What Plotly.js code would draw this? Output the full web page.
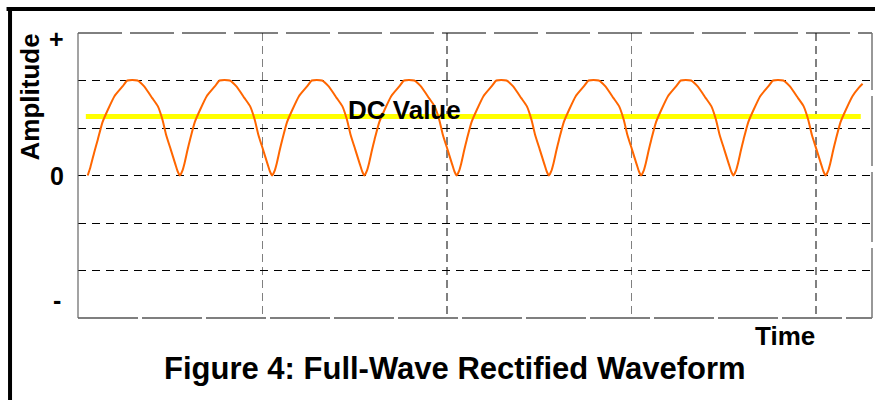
<!DOCTYPE html>
<html>
<head>
<meta charset="utf-8">
<script src="https://cdn.plot.ly/plotly-3.0.1.min.js"></script>
<style>
  html, body { margin: 0; padding: 0; background: #ffffff; }
  #chart { width: 875px; height: 400px; }
</style>
</head>
<body>
<div id="chart"></div>
<script>
// Time (arbitrary units; one rectified half-cycle = 10 units)
const timeX = [
  0, 0.3, 0.7, 1.1, 1.6, 2.2, 2.9, 3.8, 4.3, 5.4, 6.1, 7.0, 7.6, 8.1, 8.5, 9.0, 9.5, 9.75,
  10, 10.25, 10.5, 10.8, 11.1, 11.6, 12.2, 12.9, 13.8, 14.3, 15.4, 16.1, 17.0, 17.6, 18.1, 18.5, 19.0, 19.5, 19.75,
  20, 20.25, 20.5, 20.8, 21.1, 21.6, 22.2, 22.9, 23.8, 24.3, 25.4, 26.1, 27.0, 27.6, 28.1, 28.5, 29.0, 29.5, 29.75,
  30, 30.25, 30.5, 30.8, 31.1, 31.6, 32.2, 32.9, 33.8, 34.3, 35.4, 36.1, 37.0, 37.6, 38.1, 38.5, 39.0, 39.5, 39.75,
  40, 40.25, 40.5, 40.8, 41.1, 41.6, 42.2, 42.9, 43.8, 44.3, 45.4, 46.1, 47.0, 47.6, 48.1, 48.5, 49.0, 49.5, 49.75,
  50, 50.25, 50.5, 50.8, 51.1, 51.6, 52.2, 52.9, 53.8, 54.3, 55.4, 56.1, 57.0, 57.6, 58.1, 58.5, 59.0, 59.5, 59.75,
  60, 60.25, 60.5, 60.8, 61.1, 61.6, 62.2, 62.9, 63.8, 64.3, 65.4, 66.1, 67.0, 67.6, 68.1, 68.5, 69.0, 69.5, 69.75,
  70, 70.25, 70.5, 70.8, 71.1, 71.6, 72.2, 72.9, 73.8, 74.3, 75.4, 76.1, 77.0, 77.6, 78.1, 78.5, 79.0, 79.5, 79.75,
  80, 80.25, 80.5, 80.8, 81.1, 81.6, 82.2, 82.9, 83.6, 84.0
];
// Rectified amplitude
const amplitude = [
  0, 0.18, 0.48, 0.76, 1.12, 1.39, 1.67, 1.88, 2.0, 2.0, 1.88, 1.63, 1.46, 1.18, 0.86, 0.55, 0.24, 0.09,
  0, 0.09, 0.26, 0.52, 0.76, 1.12, 1.39, 1.67, 1.88, 2.0, 2.0, 1.88, 1.63, 1.46, 1.18, 0.86, 0.55, 0.24, 0.09,
  0, 0.09, 0.26, 0.52, 0.76, 1.12, 1.39, 1.67, 1.88, 2.0, 2.0, 1.88, 1.63, 1.46, 1.18, 0.86, 0.55, 0.24, 0.09,
  0, 0.09, 0.26, 0.52, 0.76, 1.12, 1.39, 1.67, 1.88, 2.0, 2.0, 1.88, 1.63, 1.46, 1.18, 0.86, 0.55, 0.24, 0.09,
  0, 0.09, 0.26, 0.52, 0.76, 1.12, 1.39, 1.67, 1.88, 2.0, 2.0, 1.88, 1.63, 1.46, 1.18, 0.86, 0.55, 0.24, 0.09,
  0, 0.09, 0.26, 0.52, 0.76, 1.12, 1.39, 1.67, 1.88, 2.0, 2.0, 1.88, 1.63, 1.46, 1.18, 0.86, 0.55, 0.24, 0.09,
  0, 0.09, 0.26, 0.52, 0.76, 1.12, 1.39, 1.67, 1.88, 2.0, 2.0, 1.88, 1.63, 1.46, 1.18, 0.86, 0.55, 0.24, 0.09,
  0, 0.09, 0.26, 0.52, 0.76, 1.12, 1.39, 1.67, 1.88, 2.0, 2.0, 1.88, 1.63, 1.46, 1.18, 0.86, 0.55, 0.24, 0.09,
  0, 0.09, 0.26, 0.52, 0.76, 1.12, 1.39, 1.67, 1.85, 1.93
];
// DC value line
const dcX = [-0.2, 83.8];
const dcY = [1.24, 1.24];
// Axis label texts
const yTickTexts = ['+', '0', '-'];
const yTickValues = [2.88, 0, -2.62];
const titleText = 'Figure 4: Full-Wave Rectified Waveform';
const dcLabel = 'DC Value';
const xLabel = 'Time';
const yLabel = 'Amplitude';

const FONT = 'Liberation Sans, Arial, Helvetica, sans-serif';
const boldFont = (size) => ({ family: FONT, size: size, color: '#000000', weight: 'bold' });

const traces = [
  {
    x: dcX, y: dcY, type: 'scatter', mode: 'lines',
    line: { color: '#FFFF00', width: 5 },
    hoverinfo: 'skip', showlegend: false
  },
  {
    x: timeX, y: amplitude, type: 'scatter', mode: 'lines',
    line: { color: '#FF6600', width: 2, shape: 'spline', smoothing: 0.5 },
    hoverinfo: 'skip', showlegend: false
  }
];

const annotations = [
  { text: titleText, xref: 'paper', yref: 'paper', x: 0.475, y: -0.178, xanchor: 'center', yanchor: 'middle', showarrow: false, font: boldFont(31) },
  { text: xLabel, xref: 'paper', yref: 'paper', x: 0.89, y: -0.062, xanchor: 'center', yanchor: 'middle', showarrow: false, font: boldFont(26) },
  { text: yLabel, xref: 'paper', yref: 'paper', x: -0.061, y: 0.776, xanchor: 'center', yanchor: 'middle', textangle: -90, showarrow: false, font: boldFont(26) },
  { text: dcLabel, xref: 'x', yref: 'y', x: 34.3, y: 1.38, xanchor: 'center', yanchor: 'middle', showarrow: false, font: boldFont(26) }
];
yTickTexts.forEach((t, i) => {
  annotations.push({ text: t, xref: 'paper', yref: 'y', x: -0.027, y: yTickValues[i], xanchor: 'center', yanchor: 'middle', showarrow: false, font: boldFont(25) });
});

const shapes = [
  // outer black frame (top and left)
  { type: 'line', xref: 'paper', yref: 'paper', x0: -0.09, x1: 1.01, y0: 1.084, y1: 1.084, line: { color: '#000000', width: 4 } },
  { type: 'line', xref: 'paper', yref: 'paper', x0: -0.0856, x1: -0.0856, y0: 1.09, y1: -0.3, line: { color: '#000000', width: 4 } },
  // plot-area border
  { type: 'line', xref: 'paper', yref: 'paper', x0: 0, x1: 1, y0: 1, y1: 1, line: { color: '#000000', width: 1, dash: '44px,8px' } },
  { type: 'line', xref: 'paper', yref: 'paper', x0: 0, x1: 1, y0: 0, y1: 0, line: { color: '#000000', width: 1.2, dash: '60px,4px' } },
  { type: 'line', xref: 'paper', yref: 'paper', x0: 0, x1: 0, y0: 0, y1: 1, line: { color: '#666666', width: 1.2 } },
  { type: 'line', xref: 'paper', yref: 'paper', x0: 1, x1: 1, y0: 0, y1: 1, line: { color: '#777777', width: 1.5, dash: '70px,6px' } }
];

const layout = {
  width: 875, height: 400,
  margin: { l: 78, r: 3, t: 33, b: 82, pad: 0 },
  paper_bgcolor: '#ffffff', plot_bgcolor: '#ffffff',
  showlegend: false,
  xaxis: {
    range: [-1.05, 85.02], tick0: -1.05, dtick: 20, tickmode: 'linear',
    showgrid: true, gridcolor: '#808080', gridwidth: 1.5, griddash: '8px,5px',
    showticklabels: false, ticks: '', zeroline: false, showline: false, fixedrange: true
  },
  yaxis: {
    range: [-3, 3], tick0: -3, dtick: 1, tickmode: 'linear',
    showgrid: true, gridcolor: '#000000', gridwidth: 1, griddash: '8px,6px',
    showticklabels: false, ticks: '', zeroline: false, showline: false, fixedrange: true
  },
  annotations: annotations,
  shapes: shapes
};

Plotly.newPlot('chart', traces, layout, { displayModeBar: false, staticPlot: true });
</script>
</body>
</html>
